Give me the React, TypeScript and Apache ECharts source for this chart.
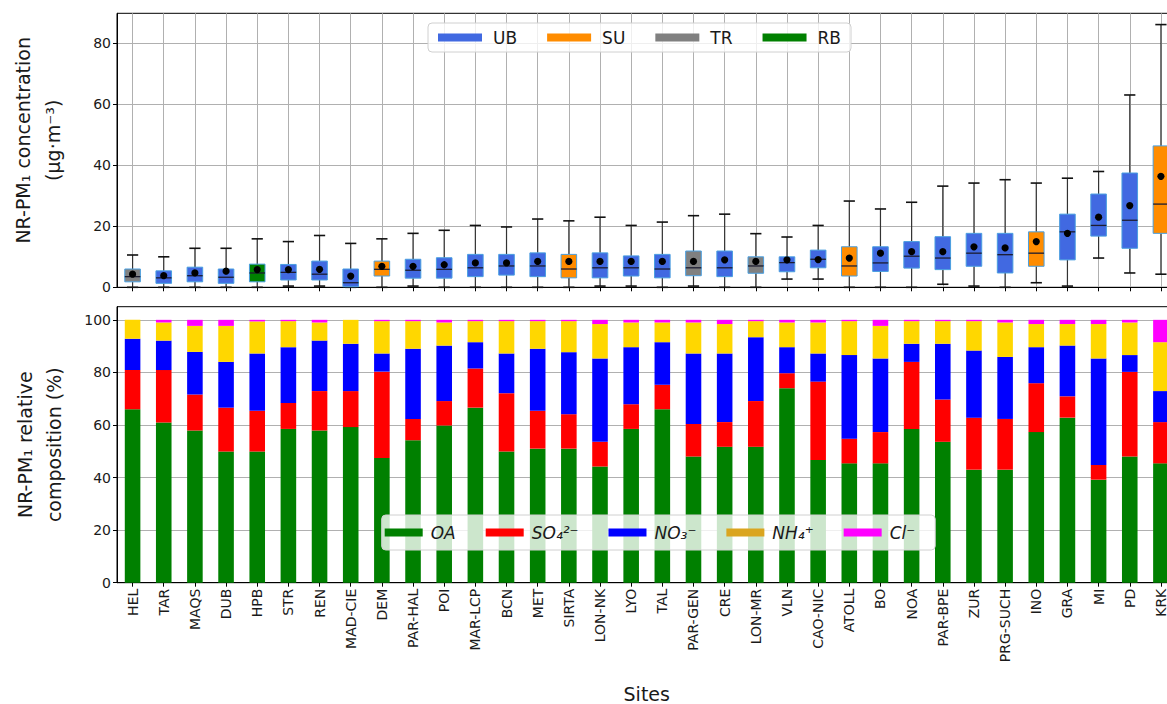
import React, { useEffect, useRef } from "react";
import * as echarts from "echarts";

const sites = ["HEL","TAR","MAQS","DUB","HPB","STR","REN","MAD-CIE","DEM","PAR-HAL","POI","MAR-LCP","BCN","MET","SIRTA","LON-NK","LYO","TAL","PAR-GEN","CRE","LON-MR","VLN","CAO-NIC","ATOLL","BO","NOA","PAR-BPE","ZUR","PRG-SUCH","INO","GRA","MI","PD","KRK"];
const siteType = ["TR","UB","UB","UB","RB","UB","UB","UB","SU","UB","UB","UB","UB","UB","SU","UB","UB","UB","TR","UB","TR","UB","UB","SU","UB","UB","UB","UB","UB","SU","UB","UB","UB","SU"];

const boxMin = [0,0,0,0,0,0.4,0.4,0,0,0.4,0,0,0,0,0,0.4,0.4,0,0.4,0,0,2.7,2.7,0,0,0,1.0,0.4,0,1.5,0.4,9.6,4.7,4.3];
const boxQ1 = [1.8,1.3,1.8,1.3,1.8,2.4,2.4,0.2,3.7,3.0,3.0,3.5,4.0,3.5,3.1,3.1,3.7,3.1,3.8,3.5,4.6,5.1,6.4,3.7,5.2,6.3,5.8,6.9,4.7,6.9,9.0,16.8,12.8,17.7];
const boxMedian = [3.5,3.1,3.8,3.3,4.7,4.9,4.3,1.5,5.9,5.6,5.9,6.4,7.0,7.0,6.0,6.4,6.4,6.0,6.4,6.4,7.0,8.1,9.2,7.0,8.0,10.2,9.6,11.2,10.7,11.2,18.2,20.3,22.0,27.3];
const boxQ3 = [6.0,5.4,6.6,6.0,7.6,7.5,8.6,6.0,8.6,9.2,9.7,10.8,10.8,11.3,10.8,11.3,10.3,10.8,11.9,11.9,10.0,10.0,12.2,13.3,13.3,15.0,16.6,17.7,17.7,18.2,24.0,30.6,37.5,46.4];
const boxMax = [10.6,10.0,12.8,12.8,15.9,15.0,17.0,14.4,15.9,17.7,18.7,20.3,19.8,22.4,21.8,23.0,20.3,21.4,23.5,24.0,17.6,16.5,20.3,28.3,25.7,27.9,33.2,34.2,35.3,34.2,35.8,38.0,63.1,86.2];
const boxMean = [4.3,3.8,4.7,5.3,5.8,5.8,5.9,3.7,6.9,6.9,7.4,8.0,8.0,8.5,8.5,8.5,8.5,8.5,8.5,9.0,8.5,9.0,9.1,9.6,11.2,11.7,11.7,13.3,12.9,15.0,17.7,23.0,26.8,36.4];

const typeNames = ["UB","SU","TR","RB"];
const typeColors = ["#4169e1","#ff8c00","#808080","#008000"];

const compNames = ["OA","SO₄²⁻","NO₃⁻","NH₄⁺","Cl⁻"];
const compColors = ["#008000","#ff0000","#0000ff","#ffd700","#ff00ff"];
const compLegendColors = ["#008000","#ff0000","#0000ff","#daa520","#ff00ff"];
const OA = [66.0,60.9,57.9,49.9,49.9,58.5,57.9,59.2,47.4,54.2,59.8,66.6,49.9,51.0,51.0,44.2,58.5,66.0,48.0,51.7,51.7,74.0,46.7,45.4,45.4,58.5,53.6,43.0,43.0,57.3,62.8,39.2,48.0,45.4];
const SO4 = [14.9,20.0,13.7,16.7,15.5,9.9,15.0,13.7,32.9,8.1,9.3,14.9,22.2,14.4,13.1,9.4,9.4,9.3,12.4,9.4,17.4,5.7,29.8,9.4,11.9,25.5,16.1,19.8,19.3,18.6,8.1,5.6,32.2,15.7];
const NO3 = [11.9,11.2,16.2,17.4,21.8,21.2,19.2,18.0,6.9,26.7,21.1,10.0,15.1,23.6,23.6,31.7,21.7,16.2,26.8,26.1,24.3,9.9,10.7,31.8,28.0,6.9,21.2,25.5,23.6,13.7,19.3,40.5,6.4,11.8];
const NH4 = [7.2,6.9,9.9,13.7,12.2,9.9,6.9,9.1,12.3,10.5,8.8,8.0,12.3,10.5,11.8,13.1,9.4,7.5,11.8,11.2,6.1,9.4,11.8,12.9,12.4,8.6,8.6,11.2,13.1,8.8,8.2,13.1,12.4,18.6];
const Cl = [0,1.0,2.3,2.3,0.6,0.5,1.0,0,0.5,0.5,1.0,0.5,0.5,0.5,0.5,1.6,1.0,1.0,1.0,1.6,0.5,1.0,1.0,0.5,2.3,0.5,0.5,0.5,1.0,1.6,1.6,1.6,1.0,8.5];
const compData = [OA, SO4, NO3, NH4, Cl];

const concTicks = [0, 20, 40, 60, 80];
const compTicks = [0, 20, 40, 60, 80, 100];

const FONT = "DejaVu Sans";

export default function App() {
  const ref = useRef<HTMLDivElement>(null);
  useEffect(() => {
    if (!ref.current) return;
    const chart = echarts.init(ref.current, null, { renderer: "svg" });

    const renderBox = (fill: string) => (params: any, api: any) => {
      const idx = api.value(0);
      const bw = api.size([1, 0])[0];
      const half = bw * 0.25;
      const capHalf = bw * 0.18;
      const pMin = api.coord([idx, api.value(1)]);
      const pQ1 = api.coord([idx, api.value(2)]);
      const pMed = api.coord([idx, api.value(3)]);
      const pQ3 = api.coord([idx, api.value(4)]);
      const pMax = api.coord([idx, api.value(5)]);
      const pMean = api.coord([idx, api.value(6)]);
      const x = pMin[0];
      const wStyle = { stroke: "#333", lineWidth: 1.2 };
      return {
        type: "group",
        children: [
          { type: "line", shape: { x1: x, y1: pQ3[1], x2: x, y2: pMax[1] }, style: wStyle },
          { type: "line", shape: { x1: x, y1: pQ1[1], x2: x, y2: pMin[1] }, style: wStyle },
          { type: "line", shape: { x1: x - capHalf, y1: pMax[1], x2: x + capHalf, y2: pMax[1] }, style: { stroke: "#111", lineWidth: 1.6 } },
          { type: "line", shape: { x1: x - capHalf, y1: pMin[1], x2: x + capHalf, y2: pMin[1] }, style: { stroke: "#111", lineWidth: 1.6 } },
          { type: "rect", shape: { x: x - half, y: pQ3[1], width: half * 2, height: pQ1[1] - pQ3[1] }, style: { fill, stroke: "#4a9fe0", lineWidth: 1 } },
          { type: "line", shape: { x1: x - half, y1: pMed[1], x2: x + half, y2: pMed[1] }, style: { stroke: "#1c1c30", lineWidth: 1.3 } },
          { type: "circle", shape: { cx: x, cy: pMean[1], r: 3.6 }, style: { fill: "#000" } },
        ],
      };
    };

    const boxSeries = typeNames.map((t, k) => ({
      type: "custom",
      name: t,
      xAxisIndex: 0,
      yAxisIndex: 0,
      itemStyle: { color: typeColors[k] },
      renderItem: renderBox(typeColors[k]),
      encode: { x: 0, y: [1, 2, 3, 4, 5] },
      data: sites
        .map((s, i) => [i, boxMin[i], boxQ1[i], boxMedian[i], boxQ3[i], boxMax[i], boxMean[i], siteType[i]])
        .filter((d) => d[7] === t)
        .map((d) => d.slice(0, 7)),
      z: 3,
    }));

    const barSeries = compNames.map((n, k) => ({
      type: "bar",
      name: n,
      stack: "comp",
      xAxisIndex: 1,
      yAxisIndex: 1,
      barWidth: "50%",
      itemStyle: { color: compColors[k] },
      data: compData[k],
    }));

    const axisLineStyle = { lineStyle: { color: "#000", width: 1 } };
    const gridLine = { lineStyle: { color: "#b0b0b0", width: 1 } };
    const tickLabel = { fontFamily: FONT, fontSize: 14, color: "#1a1a1a" };

    chart.setOption({
      animation: false,
      textStyle: { fontFamily: FONT },
      grid: [
        { left: 117, top: 13.3, width: 1059.5, height: 274, show: true, borderColor: "#000", borderWidth: 1, containLabel: false, outerBoundsMode: "none" },
        { left: 117, top: 306.7, width: 1059.5, height: 276, show: true, borderColor: "#000", borderWidth: 1, containLabel: false, outerBoundsMode: "none" },
      ],
      legend: [
        {
          data: typeNames,
          left: 428,
          top: 23,
          orient: "horizontal",
          icon: "rect",
          itemWidth: 44,
          itemHeight: 8,
          itemGap: 30,
          padding: [6, 10, 6, 10],
          backgroundColor: "rgba(255,255,255,0.8)",
          borderColor: "#d0d0d0",
          borderWidth: 1,
          borderRadius: 4,
          textStyle: { fontFamily: FONT, fontSize: 17, color: "#1a1a1a", padding: [0, 0, 0, 6] },
        },
        {
          data: compNames.map((n, k) => ({ name: n, itemStyle: { color: compLegendColors[k] } })),
          left: 381.7,
          top: 515,
          orient: "horizontal",
          icon: "rect",
          itemWidth: 38,
          itemHeight: 8,
          itemGap: 30,
          padding: [9, 20, 9, 3],
          backgroundColor: "rgba(255,255,255,0.8)",
          borderColor: "#d0d0d0",
          borderWidth: 1,
          borderRadius: 4,
          textStyle: { fontFamily: FONT, fontSize: 17, fontStyle: "italic", color: "#1a1a1a", padding: [0, 0, 0, 3] },
        },
      ],
      xAxis: [
        {
          type: "category",
          gridIndex: 0,
          data: sites,
          boundaryGap: true,
          axisLine: axisLineStyle,
          axisTick: { show: true, length: 4, interval: 0, alignWithLabel: true, lineStyle: { color: "#000" } },
          axisLabel: { show: false, interval: 0 },
          splitLine: { show: true, interval: 0, alignWithLabel: true, ...gridLine },
        },
        {
          type: "category",
          gridIndex: 1,
          data: sites,
          boundaryGap: true,
          axisLine: axisLineStyle,
          axisTick: { show: true, length: 4, interval: 0, alignWithLabel: true, lineStyle: { color: "#000" } },
          axisLabel: { ...tickLabel, interval: 0, rotate: 90, margin: 6 },
          splitLine: { show: false },
          name: "Sites",
          nameLocation: "middle",
          nameGap: 102,
          nameTextStyle: { fontFamily: FONT, fontSize: 19, color: "#1a1a1a" },
        },
      ],
      yAxis: [
        {
          type: "value",
          gridIndex: 0,
          min: 0,
          max: 89.9,
          interval: 20,
          axisLine: { show: true, ...axisLineStyle },
          axisTick: { show: true, length: 4, customValues: concTicks, lineStyle: { color: "#000" } },
          axisLabel: { ...tickLabel, margin: 6, customValues: concTicks },
          splitLine: { show: true, ...gridLine },
          name: "NR-PM₁ concentration\n(μg·m⁻³)",
          nameLocation: "middle",
          nameRotate: 90,
          nameGap: 49,
          nameTextStyle: { fontFamily: FONT, fontSize: 19, color: "#1a1a1a", lineHeight: 30, padding: [0, 0, 0, 20] },
        },
        {
          type: "value",
          gridIndex: 1,
          min: 0,
          max: 105,
          interval: 20,
          axisLine: { show: true, ...axisLineStyle },
          axisTick: { show: true, length: 4, customValues: compTicks, lineStyle: { color: "#000" } },
          axisLabel: { ...tickLabel, margin: 6, customValues: compTicks },
          splitLine: { show: true, ...gridLine },
          name: "NR-PM₁ relative\ncomposition (%)",
          nameLocation: "middle",
          nameRotate: 90,
          nameGap: 49,
          nameTextStyle: { fontFamily: FONT, fontSize: 19, color: "#1a1a1a", lineHeight: 29 },
        },
      ],
      series: [...boxSeries, ...barSeries],
    });

    return () => chart.dispose();
  }, []);

  return (
    <div
      ref={ref}
      style={{ position: "fixed", left: 0, top: 0, width: 1167, height: 704, background: "#fff" }}
    />
  );
}
